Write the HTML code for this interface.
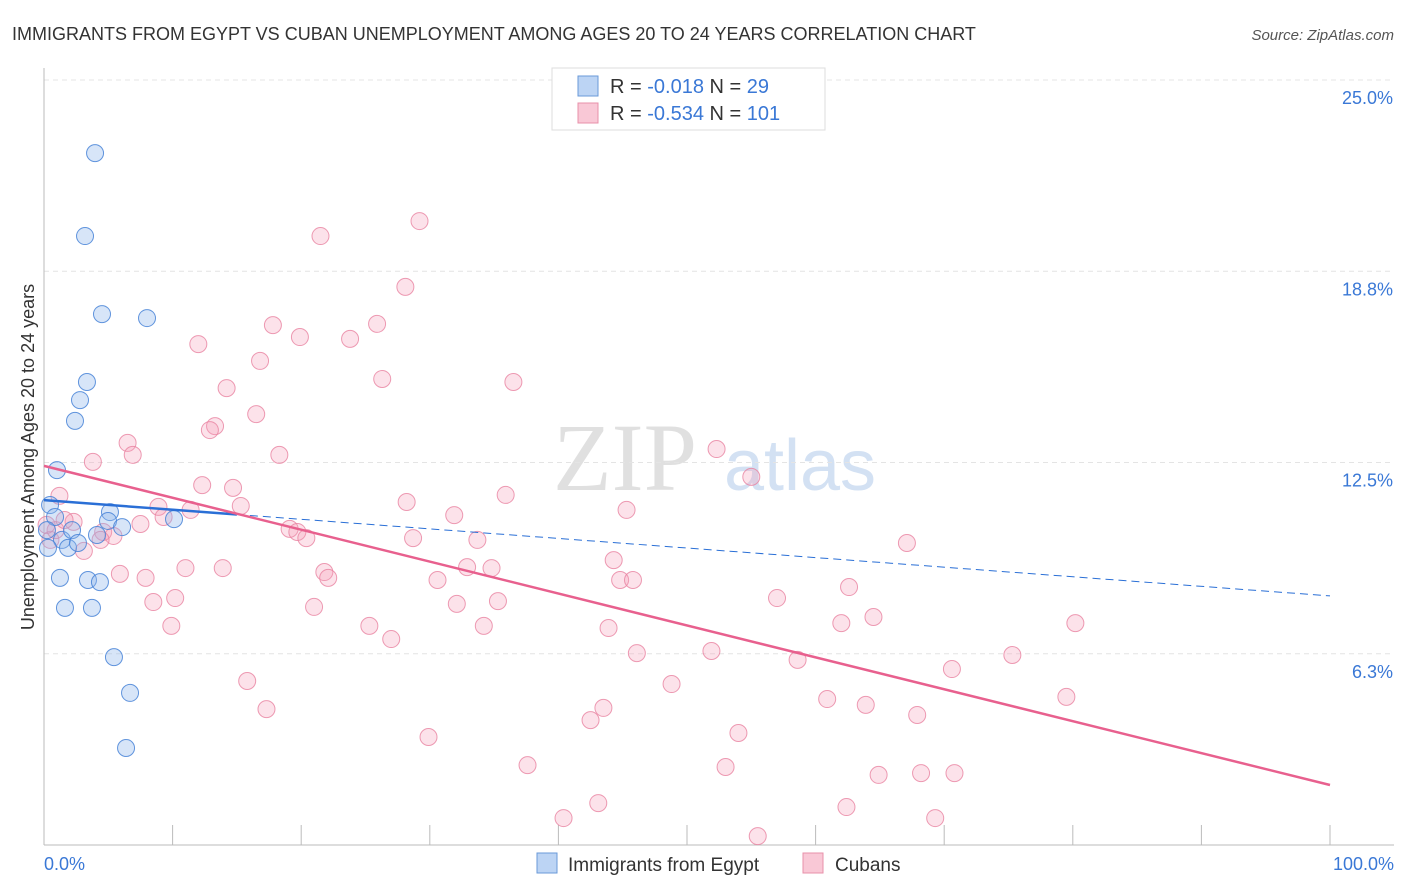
<!DOCTYPE html>
<html><head><meta charset="utf-8"><style>
body{margin:0;background:#fff;font-family:"Liberation Sans",sans-serif;}
svg{display:block}
</style></head><body>
<svg id="chart" width="1406" height="892" xmlns="http://www.w3.org/2000/svg">
<text x="12" y="40" font-size="18" fill="#333">IMMIGRANTS FROM EGYPT VS CUBAN UNEMPLOYMENT AMONG AGES 20 TO 24 YEARS CORRELATION CHART</text>
<text x="1394" y="40" font-size="15" fill="#555" font-style="italic" text-anchor="end">Source: ZipAtlas.com</text>
<g>
<text x="625" y="490" font-size="96" fill="#ccc" font-family="Liberation Serif,serif" text-anchor="middle" opacity="0.6">ZIP</text>
<text x="800" y="490" font-size="72" fill="#a8c4e8" text-anchor="middle" opacity="0.5">atlas</text>
</g>
<g id="grid"></g>
<g id="axes"></g>
<g id="marks"></g>
<g>
<rect x="552" y="68" width="273" height="62" fill="#fff" stroke="#ddd"/>
<rect x="578" y="76" width="20" height="20" fill="#bcd4f4" stroke="#6a9ad8"/>
<rect x="578" y="103" width="20" height="20" fill="#f9c8d6" stroke="#e890aa"/>
<text x="610" y="93" font-size="20" fill="#333">R = <tspan fill="#3a78d6">-0.018</tspan>   N = <tspan fill="#3a78d6"> 29</tspan></text>
<text x="610" y="120" font-size="20" fill="#333">R = <tspan fill="#3a78d6">-0.534</tspan>   N = <tspan fill="#3a78d6">101</tspan></text>
</g>
<g>
<rect x="537" y="853" width="20" height="20" fill="#bcd4f4" stroke="#6a9ad8"/>
<text x="568" y="871" font-size="19" fill="#333">Immigrants from Egypt</text>
<rect x="803" y="853" width="20" height="20" fill="#f9c8d6" stroke="#e890aa"/>
<text x="835" y="871" font-size="19" fill="#333">Cubans</text>
</g>
<text transform="translate(34,457) rotate(-90)" font-size="18" fill="#333" text-anchor="middle">Unemployment Among Ages 20 to 24 years</text>
</svg>
<script>
const yTicks=[6.25,12.5,18.75,25];
const yTickLabels=["6.3%","12.5%","18.8%","25.0%"];
const xTicks=[0,10,20,30,40,50,60,70,80,90,100];
const egyptX=[3.97,3.19,4.51,8.01,3.34,2.80,2.41,1.01,5.13,4.98,6.07,10.11,0.47,0.86,0.23,1.40,2.18,1.87,2.64,4.12,1.24,3.42,4.35,1.63,3.73,5.44,6.69,6.38,0.31];
const egyptY=[22.61,19.90,17.35,17.22,15.13,14.54,13.86,12.25,10.88,10.59,10.39,10.65,11.11,10.72,10.29,9.97,10.29,9.71,9.87,10.13,8.73,8.66,8.59,7.75,7.75,6.14,4.97,3.17,9.71];
const cubaX=[29.2,21.5,28.1,17.8,25.9,19.9,23.8,12.0,16.8,26.3,36.5,14.2,16.5,13.3,12.9,6.5,6.9,18.3,3.8,52.3,55.0,12.3,14.7,1.2,28.2,35.9,8.9,15.3,11.4,9.3,2.3,4.6,7.5,31.9,45.3,19.1,19.7,28.7,33.7,20.4,5.4,3.1,67.1,44.3,11.0,13.9,21.8,32.9,34.8,5.9,7.9,22.1,30.6,44.8,45.8,62.6,10.2,8.5,35.3,57.0,21.0,32.1,64.5,9.9,25.3,34.2,62.0,80.2,43.9,27.0,51.9,46.1,75.3,58.6,70.6,48.8,15.8,79.5,60.9,63.9,17.3,43.5,67.9,42.5,54.0,29.9,37.6,53.0,64.9,68.2,70.8,43.1,62.4,40.4,69.3,55.5,0.5,0.9,0.2,4.4,1.6];
const cubaY=[20.39,19.90,18.24,16.99,17.03,16.60,16.54,16.37,15.82,15.23,15.13,14.93,14.08,13.69,13.56,13.14,12.75,12.75,12.52,12.94,12.03,11.76,11.67,11.41,11.21,11.44,11.05,11.08,10.95,10.72,10.56,10.23,10.49,10.78,10.95,10.33,10.23,10.03,9.97,10.03,10.10,9.61,9.87,9.31,9.05,9.05,8.92,9.08,9.05,8.86,8.73,8.73,8.66,8.66,8.66,8.43,8.07,7.94,7.97,8.07,7.78,7.88,7.45,7.16,7.16,7.16,7.25,7.25,7.09,6.73,6.34,6.27,6.21,6.05,5.75,5.26,5.36,4.84,4.77,4.58,4.44,4.48,4.25,4.08,3.66,3.53,2.61,2.55,2.29,2.35,2.35,1.37,1.24,0.88,0.88,0.29,9.97,10.29,10.46,9.97,10.62];
const egyptTrend=[11.27,8.14];
const cubaTrend=[12.39,1.96];
const egyptSolidEnd=15;

const X0=44,X1=1330,Y0=845,Y25=80;
const sx=v=>X0+(X1-X0)*v/100;
const sy=v=>Y0-(Y0-Y25)*v/25;
const NS="http://www.w3.org/2000/svg";
function mk(tag,attrs,parent){const e=document.createElementNS(NS,tag);for(const k in attrs)e.setAttribute(k,attrs[k]);parent.appendChild(e);return e;}
const grid=document.getElementById('grid'),axes=document.getElementById('axes'),marks=document.getElementById('marks');
yTicks.forEach((t,i)=>{
 const l=mk('line',{x1:X0,x2:1394,y1:sy(t),y2:sy(t),stroke:'#e4e4e4','stroke-dasharray':'5,4'},grid);
 
 
 const tx=mk('text',{x:1393,y:sy(t)+24,'font-size':18,fill:'#3a78d6','text-anchor':'end'},axes);
 tx.textContent=yTickLabels[i];
 
 
});
const ya=mk('line',{x1:X0,x2:X0,y1:68,y2:Y0,stroke:'#bbb'},axes);


const xa=mk('line',{x1:X0,x2:1394,y1:Y0,y2:Y0,stroke:'#bbb'},axes);


xTicks.forEach(t=>{
 const l=mk('line',{x1:sx(t),x2:sx(t),y1:825,y2:Y0,stroke:'#bbb'},axes);
 
 
});
[[0,"0.0%",'start',44],[100,"100.0%",'end',1394]].forEach(a=>{
 const tx=mk('text',{x:a[3],y:870,'font-size':18,fill:'#3a78d6','text-anchor':a[2]},axes);
 tx.textContent=a[1];
 
 
});
cubaX.forEach((x,i)=>{
 const c=mk('circle',{cx:sx(x),cy:sy(cubaY[i]),r:8.5,fill:'rgba(244,160,185,0.3)',stroke:'rgba(232,130,160,0.8)','stroke-width':1},marks);
 
 
});
egyptX.forEach((x,i)=>{
 const c=mk('circle',{cx:sx(x),cy:sy(egyptY[i]),r:8.5,fill:'rgba(140,180,235,0.35)',stroke:'rgba(70,130,215,0.85)','stroke-width':1},marks);
 
 
});
const ey=x=>egyptTrend[0]+(egyptTrend[1]-egyptTrend[0])*x/100;
const e1=mk('line',{x1:sx(0),y1:sy(ey(0)),x2:sx(egyptSolidEnd),y2:sy(ey(egyptSolidEnd)),stroke:'#2a6fd6','stroke-width':2.5},marks);


const e2=mk('line',{x1:sx(egyptSolidEnd),y1:sy(ey(egyptSolidEnd)),x2:sx(100),y2:sy(ey(100)),stroke:'#2a6fd6','stroke-width':1,'stroke-dasharray':'8,5'},marks);


const c1=mk('line',{x1:sx(0),y1:sy(cubaTrend[0]),x2:sx(100),y2:sy(cubaTrend[1]),stroke:'#e8608e','stroke-width':2.5},marks);


</script>
</body></html>
